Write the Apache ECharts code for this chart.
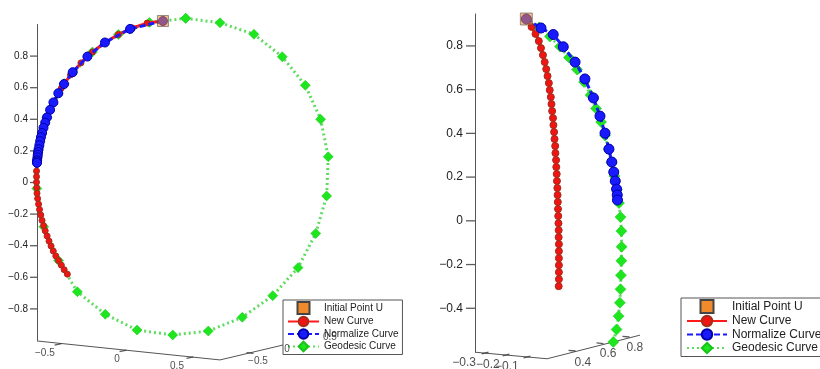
<!DOCTYPE html>
<html>
<head>
<meta charset="utf-8">
<script src="https://cdn.jsdelivr.net/npm/echarts@6/dist/echarts.min.js"></script>
<style>
html, body { margin: 0; padding: 0; background: #fff; }
#chart { width: 820px; height: 369px; }
</style>
</head>
<body>
<div id="chart"></div>
<script>
// projected view coordinates [u, v]; v is the vertical (z) value on the labelled axis
const leftInitialPoint = [-0.123, 1.022];
const leftNewCurve = [
    [-0.123, 1.022], [-0.223, 1.009], [-0.316, 0.978], [-0.405, 0.937], [-0.490, 0.886],
    [-0.569, 0.826], [-0.642, 0.757], [-0.708, 0.681], [-0.766, 0.597], [-0.816, 0.507],
    [-0.856, 0.413], [-0.888, 0.313], [-0.910, 0.211], [-0.920, 0.142], [-0.923, 0.072],
    [-0.923, 0.037], [-0.923, 0.002], [-0.922, -0.033], [-0.920, -0.068], [-0.916, -0.102],
    [-0.910, -0.137], [-0.904, -0.171], [-0.896, -0.206], [-0.888, -0.240], [-0.878, -0.273],
    [-0.868, -0.306], [-0.856, -0.339], [-0.844, -0.371], [-0.831, -0.402], [-0.817, -0.434],
    [-0.801, -0.465], [-0.784, -0.494], [-0.766, -0.523], [-0.748, -0.552], [-0.728, -0.580]
];
const leftNormalizeCurve = [
    [-0.123, 1.022], [-0.331, 0.972], [-0.490, 0.886], [-0.601, 0.797], [-0.694, 0.698],
    [-0.749, 0.623], [-0.785, 0.565], [-0.816, 0.507], [-0.837, 0.460], [-0.857, 0.412],
    [-0.868, 0.379], [-0.879, 0.346], [-0.888, 0.313], [-0.895, 0.287], [-0.900, 0.262],
    [-0.905, 0.236], [-0.910, 0.211], [-0.913, 0.193], [-0.915, 0.176], [-0.917, 0.159],
    [-0.919, 0.142], [-0.920, 0.133], [-0.920, 0.124]
];
const leftGeodesicCurve = [
    [0.021, 1.039], [0.238, 1.011], [0.453, 0.938], [0.632, 0.796], [0.778, 0.615],
    [0.875, 0.400], [0.923, 0.163], [0.913, -0.085], [0.844, -0.322], [0.732, -0.539],
    [0.572, -0.716], [0.379, -0.853], [0.164, -0.940], [-0.061, -0.965], [-0.287, -0.934],
    [-0.488, -0.834], [-0.665, -0.691], [-0.784, -0.494], [-0.877, -0.280], [-0.921, -0.038],
    [-0.913, 0.193], [-0.857, 0.412], [-0.748, 0.626], [-0.569, 0.826], [-0.405, 0.937],
    [-0.208, 1.013], [0.021, 1.039]
];

const rightInitialPoint = [0.235, 0.923];
const rightNewCurve = [
    [0.235, 0.923], [0.259, 0.887], [0.277, 0.855], [0.292, 0.822], [0.302, 0.790],
    [0.311, 0.758], [0.319, 0.726], [0.326, 0.694], [0.332, 0.662], [0.338, 0.630],
    [0.342, 0.598], [0.347, 0.566], [0.350, 0.534], [0.353, 0.502], [0.357, 0.470],
    [0.359, 0.438], [0.362, 0.406], [0.364, 0.374], [0.367, 0.342], [0.368, 0.310],
    [0.371, 0.278], [0.372, 0.246], [0.374, 0.214], [0.375, 0.182], [0.377, 0.150],
    [0.378, 0.118], [0.379, 0.086], [0.380, 0.054], [0.381, 0.022], [0.382, -0.011],
    [0.383, -0.043], [0.383, -0.075], [0.384, -0.107], [0.384, -0.139], [0.384, -0.171],
    [0.384, -0.203], [0.384, -0.235], [0.384, -0.267], [0.383, -0.299]
];
const rightNormalizeCurve = [
    [0.235, 0.923], [0.302, 0.882], [0.358, 0.852], [0.404, 0.796], [0.458, 0.726],
    [0.503, 0.649], [0.542, 0.562], [0.572, 0.479], [0.595, 0.401], [0.613, 0.328],
    [0.626, 0.269], [0.635, 0.223], [0.642, 0.182], [0.648, 0.145], [0.651, 0.118],
    [0.652, 0.095]
];
const rightGeodesicCurve = [
    [0.235, 0.923], [0.293, 0.884], [0.343, 0.843], [0.389, 0.797], [0.430, 0.747],
    [0.467, 0.692], [0.499, 0.635], [0.529, 0.575], [0.554, 0.514], [0.577, 0.452],
    [0.595, 0.390], [0.611, 0.328], [0.625, 0.266], [0.638, 0.205], [0.650, 0.143],
    [0.659, 0.081], [0.666, 0.017], [0.670, -0.047], [0.671, -0.119], [0.670, -0.183],
    [0.668, -0.249], [0.666, -0.313], [0.663, -0.375], [0.657, -0.436], [0.648, -0.497],
    [0.633, -0.554]
];

const seriesNames = ['Initial Point U', 'New Curve', 'Normalize Curve', 'Geodesic Curve'];
const leftYTicks = [-0.8, -0.6, -0.4, -0.2, 0, 0.2, 0.4, 0.6, 0.8];
const rightYTicks = [-0.4, -0.2, 0, 0.2, 0.4, 0.6, 0.8];

// the two floor axes of each 3-D box, in the same projected coordinates
const leftFloorLine = [[-0.92, -1.003], [0.238, -1.123], [0.99, -0.945]];
const leftFloorLabels = ['\u22120.5', '0', '0.5', '\u22120.5', '0', '0.5'];
const leftFloorLabelPos = [[-0.870, -1.079], [-0.414, -1.117], [-0.034, -1.161], [0.478, -1.130], [0.662, -1.054], [0.934, -0.978]];
const leftFloorTicksA = [[-0.787, -1.025], [-0.376, -1.066], [0.048, -1.108]];
const leftFloorTicksB = [[0.428, -1.079]];

const rightFloorLine = [[0, -0.601], [0.330, -0.631], [0.755, -0.523]];
const rightFloorLabels = ['\u22120.3', '\u22120.2', '\u22120.1', '0.4', '0.6', '0.8'];
const rightFloorLabelPos = [[-0.050, -0.651], [0.059, -0.660], [0.146, -0.665], [0.494, -0.647], [0.609, -0.610], [0.732, -0.578]];
const rightFloorTicksA = [[0.046, -0.605], [0.142, -0.614], [0.238, -0.623]];
const rightFloorTicksB = [[0.444, -0.594], [0.572, -0.560], [0.691, -0.530]];

const FONT = "'Liberation Sans', Arial, Helvetica, sans-serif";
const SQUARE_ICON = 'path://M0,0L10,0L10,10L0,10Z';

function fmt(v) {
    return v < 0 ? '\u2212' + (-v) : String(v);
}

function plotSeries(i, init, newC, norm, geo, s) {
    return [
        {
            name: 'Geodesic Curve', type: 'line', xAxisIndex: i, yAxisIndex: i,
            data: geo, symbol: 'diamond', symbolSize: s.geo, clip: false, z: 2,
            lineStyle: { color: '#5fdc5f', width: 3, type: [2, 3] },
            itemStyle: { color: '#1ee61e', borderColor: '#17c417', borderWidth: 0.5 }
        },
        {
            name: 'New Curve', type: 'line', xAxisIndex: i, yAxisIndex: i,
            data: newC, symbol: 'circle', symbolSize: s.red, clip: false, z: 3,
            lineStyle: { color: '#ff1a1a', width: 3 },
            itemStyle: { color: '#f01414', borderColor: '#a0301a', borderWidth: 1 }
        },
        {
            name: 'Normalize Curve', type: 'line', xAxisIndex: i, yAxisIndex: i,
            data: norm, symbol: 'circle', symbolSize: s.blue, clip: false, z: 4,
            lineStyle: { color: '#1a1aff', width: 3, type: [6, 3] },
            itemStyle: { color: '#1a1aff', borderColor: '#0000a8', borderWidth: 1 }
        },
        {
            name: 'Initial Point U', type: 'scatter', xAxisIndex: i, yAxisIndex: i,
            data: [init], symbol: 'rect', symbolSize: s.sq, clip: false, z: 5,
            itemStyle: { color: '#f08a2a', borderColor: '#444', borderWidth: 1, opacity: 0.55 }
        }
    ];
}

// short outward tick marks on the vertical axis, one at each labelled value
function axisTickSeries(i, axisU, ticks, len) {
    return {
        type: 'scatter', xAxisIndex: i, yAxisIndex: i, symbol: 'rect', symbolSize: [len, 1.3],
        symbolOffset: [-len / 2, 0], data: ticks.map(t => [axisU, t]),
        silent: true, clip: false, z: 1, itemStyle: { color: '#333' }
    };
}

function floorSeries(i, line, labels, labelPos, ticksA, rotA, ticksB, rotB, fontSize) {
    return [
        {
            type: 'line', xAxisIndex: i, yAxisIndex: i, data: line, symbol: 'none',
            silent: true, clip: false, z: 1, lineStyle: { color: '#555', width: 1 }
        },
        {
            type: 'scatter', xAxisIndex: i, yAxisIndex: i, symbol: 'rect', symbolSize: [7, 1.3],
            symbolRotate: rotA, data: ticksA, silent: true, clip: false, z: 1,
            itemStyle: { color: '#333' }
        },
        {
            type: 'scatter', xAxisIndex: i, yAxisIndex: i, symbol: 'rect', symbolSize: [7, 1.3],
            symbolRotate: rotB, data: ticksB, silent: true, clip: false, z: 1,
            itemStyle: { color: '#333' }
        },
        {
            type: 'scatter', xAxisIndex: i, yAxisIndex: i, symbolSize: 1, silent: true, clip: false, z: 10,
            data: labels.map((t, k) => ({ name: t, value: labelPos[k] })),
            itemStyle: { color: 'transparent' },
            label: {
                show: true, position: 'inside', formatter: p => p.name,
                fontSize: fontSize, fontFamily: FONT, color: '#222'
            }
        }
    ];
}

function yAxis(i, min, max, ticks, fontSize, margin) {
    return {
        type: 'value', gridIndex: i, min: min, max: max,
        axisLine: { show: true, onZero: false, lineStyle: { color: '#555', width: 1 } },
        axisTick: { show: false },
        axisLabel: {
            customValues: ticks, formatter: fmt, margin: margin,
            fontSize: fontSize, fontFamily: FONT, color: '#222'
        },
        splitLine: { show: false }
    };
}

function legend(left, top, itemWidth, itemHeight, fontSize, padding) {
    return {
        left: left, top: top, orient: 'vertical', selectedMode: false,
        itemWidth: itemWidth, itemHeight: itemHeight, itemGap: 0.5, padding: padding,
        borderColor: '#555', borderWidth: 1, backgroundColor: '#fff',
        textStyle: { fontSize: fontSize, lineHeight: itemHeight, fontFamily: FONT, color: '#222' },
        data: seriesNames.map(n => n === 'Initial Point U'
            ? { name: n, icon: SQUARE_ICON, itemStyle: { opacity: 1 } }
            : n)
    };
}

const chart = echarts.init(document.getElementById('chart'), null, { renderer: 'canvas' });
chart.setOption({
    backgroundColor: '#fff',
    animation: false,
    grid: [
        { left: 37, top: 24.5, width: 303.4, height: 316 },
        { left: 475, top: 14, width: 240.35, height: 338 }
    ],
    xAxis: [
        { type: 'value', gridIndex: 0, min: -0.92, max: 1.0, show: false },
        { type: 'value', gridIndex: 1, min: 0, max: 1.1, show: false }
    ],
    yAxis: [
        yAxis(0, -1, 1, leftYTicks, 10, 9),
        yAxis(1, -0.6, 0.946, rightYTicks, 12, 12)
    ],
    legend: [
        legend(283, 300, 31, 12, 10, [1, 4, 2, 4]),
        legend(681, 298, 40, 13, 12, [1, 5, 2, 5])
    ],
    series: [].concat(
        [axisTickSeries(0, -0.92, leftYTicks, 7), axisTickSeries(1, 0, rightYTicks, 9)],
        floorSeries(0, leftFloorLine, leftFloorLabels, leftFloorLabelPos, leftFloorTicksA, 13, leftFloorTicksB, -6, 10),
        floorSeries(1, rightFloorLine, rightFloorLabels, rightFloorLabelPos, rightFloorTicksA, 14, rightFloorTicksB, -5, 12),
        plotSeries(0, leftInitialPoint, leftNewCurve, leftNormalizeCurve, leftGeodesicCurve,
            { geo: 10, red: 6, blue: 9, sq: 11 }),
        plotSeries(1, rightInitialPoint, rightNewCurve, rightNormalizeCurve, rightGeodesicCurve,
            { geo: 11, red: 7, blue: 10, sq: 12 })
    )
});
</script>
</body>
</html>
